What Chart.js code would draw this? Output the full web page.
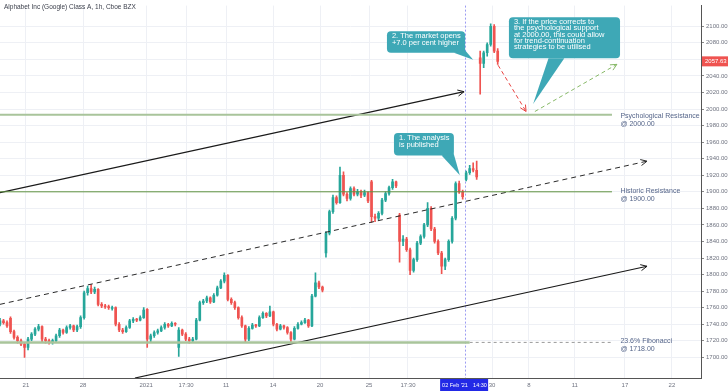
<!DOCTYPE html>
<html>
<head>
<meta charset="utf-8">
<script src="https://cdn.jsdelivr.net/npm/chart.js@4.4.0/dist/chart.umd.min.js"></script>
<style>
  html, body { margin: 0; padding: 0; background: #fff; }
</style>
</head>
<body>
<canvas id="chart" width="728" height="391"></canvas>
<script>
// hourly candles (index = candle number)
const opens = [1740,1744,1742,1747,1731,1724,1720,1716,1712,1722,1728,1734,1737,1722,1720,1719,1720,1726,1733,1730,
  1736,1738,1733,1737,1748,1778,1783,1779,1782,1764,1762,1761,1759,1760,1740,1733,1731,1736,1744,1746,
  1745,1748,1758,1722,1726,1730,1732,1736,1740,1738,1741,1712,1733,1728,1722,1720,1722,1745,1766,1768,
  1772,1767,1775,1784,1792,1799,1770,1766,1760,1748,1738,1722,1735,1739,1738,1748,1753,1750,1755,1740,
  1734,1738,1736,1730,1722,1735,1740,1742,1745,1738,1774,1790,1785,1826,1850,1876,1893,1887,1920,1897,
  1892,1904,1897,1900,1896,1899,1912,1870,1868,1874,1890,1898,1905,1912,1872,1840,1843,1830,1805,1818,
  1838,1846,1860,1880,1855,1840,1826,1810,1818,1840,1868,1910,1900,1915,1923,1928,1926,2062,2055,2068,
  2078,2100,2070];
const highs = [1747,1746,1744,1749,1733,1726,1722,1718,1724,1730,1736,1740,1738,1724,1722,1722,1728,1735,1734,1738,
  1740,1739,1739,1750,1780,1786,1788,1785,1783,1766,1764,1763,1762,1761,1742,1735,1738,1746,1748,1747,
  1750,1760,1759,1728,1732,1734,1738,1742,1741,1743,1742,1736,1734,1730,1724,1724,1747,1768,1770,1774,
  1773,1777,1786,1794,1802,1800,1772,1768,1761,1750,1739,1737,1741,1740,1750,1755,1754,1762,1756,1741,
  1740,1739,1737,1731,1737,1742,1744,1747,1746,1776,1802,1792,1786,1852,1878,1896,1895,1930,1924,1899,
  1906,1906,1903,1902,1902,1900,1914,1873,1876,1892,1900,1907,1915,1913,1874,1847,1845,1832,1820,1840,
  1848,1862,1887,1882,1857,1842,1828,1820,1842,1870,1912,1913,1902,1925,1932,1935,1937,2070,2070,2080,
  2103,2102,2073];
const lows = [1738,1740,1736,1729,1722,1717,1714,1700,1709,1720,1726,1732,1719,1717,1716,1716,1719,1724,1728,1729,
  1734,1731,1731,1735,1746,1775,1777,1777,1762,1760,1759,1758,1757,1738,1731,1729,1730,1735,1742,1743,
  1744,1747,1712,1719,1724,1728,1731,1734,1736,1737,1738,1701,1726,1720,1717,1718,1721,1744,1764,1766,
  1765,1766,1774,1783,1790,1768,1764,1758,1746,1736,1718,1720,1734,1736,1737,1747,1748,1749,1738,1732,
  1733,1734,1728,1718,1721,1734,1739,1741,1736,1737,1773,1783,1779,1821,1848,1874,1885,1886,1895,1889,
  1890,1895,1895,1893,1894,1887,1863,1864,1866,1872,1888,1896,1903,1905,1815,1835,1828,1800,1803,1816,
  1836,1844,1858,1853,1838,1824,1801,1806,1816,1838,1866,1898,1891,1913,1921,1924,1915,2018,2050,2064,
  2076,2068,2054];
const closes = [1744,1742,1738,1731,1724,1720,1716,1712,1722,1728,1734,1737,1722,1720,1719,1720,1726,1733,1730,1736,
  1738,1733,1737,1748,1778,1783,1779,1782,1764,1762,1761,1760,1760,1740,1733,1731,1736,1744,1746,1745,
  1748,1757,1722,1726,1730,1732,1736,1740,1738,1741,1740,1733,1728,1722,1720,1722,1745,1766,1768,1772,
  1767,1775,1784,1792,1799,1770,1766,1760,1748,1738,1722,1735,1739,1738,1748,1753,1750,1755,1740,1734,
  1738,1736,1730,1722,1735,1740,1742,1745,1738,1774,1790,1785,1781,1850,1876,1893,1887,1920,1897,1892,
  1904,1897,1900,1896,1899,1889,1870,1868,1874,1890,1898,1905,1912,1907,1840,1843,1830,1805,1818,1838,
  1846,1860,1880,1855,1840,1826,1810,1818,1840,1868,1910,1900,1894,1923,1928,1926,1918,2055,2068,2078,
  2100,2070,2057.63];

const tickPos = [7.4, 23.7, 41.7, 53.1, 64.5, 77.9, 91.3, 105.3, 116.4, 140.4, 150.9, 164.0, 178.3, 191.7];
const tickLabels = ['21', '28', '2021', '17:30', '11', '14', '20', '25', '17:30', '30', '8', '11', '17', '22'];

// drawn lines (start / end in candle index and price)
const upperChannel = [{ x: 0, y: 1899 }, { x: 132.4, y: 2021 }];
const midChannel = [{ x: 0, y: 1764 }, { x: 184.6, y: 1937 }];
const lowerChannel = [{ x: 38.5, y: 1675 }, { x: 184.6, y: 1810 }];
const bearPath = [{ x: 142.1, y: 2053 }, { x: 150.1, y: 1997 }];
const bullPath = [{ x: 152.6, y: 1997 }, { x: 176, y: 2054 }];
const psychLevel = [{ x: 0, y: 1993 }, { x: 174.6, y: 1993 }];
const historicLevel = [{ x: 0, y: 1900 }, { x: 174.6, y: 1900 }];
const fibLevel = [{ x: 0, y: 1718 }, { x: 134, y: 1718 }];
const fibExtension = [{ x: 134, y: 1718 }, { x: 174.6, y: 1718 }];

const analysisIndex = 132.7;
const lastPrice = 2057.63;

const up = '#26a69a', down = '#ef5350';
const idx = opens.map((_, i) => i);
const candleColor = c => closes[c.dataIndex] >= opens[c.dataIndex] ? up : down;
const FONT = '"Liberation Sans", Arial, sans-serif';

function lineSet(data, color, width, dash, arrow) {
    return { type: 'line', data: data, borderColor: color, borderWidth: width, borderDash: dash || [],
        pointRadius: 0, fill: false, tension: 0, order: 0, arrow: !!arrow };
}

function drawArrow(ctx, a, b, color) {
    const ang = Math.atan2(b.y - a.y, b.x - a.x);
    const len = 7;
    ctx.save();
    ctx.strokeStyle = color;
    ctx.lineWidth = 1;
    ctx.setLineDash([]);
    ctx.beginPath();
    ctx.moveTo(b.x - len * Math.cos(ang - 0.45), b.y - len * Math.sin(ang - 0.45));
    ctx.lineTo(b.x, b.y);
    ctx.lineTo(b.x - len * Math.cos(ang + 0.45), b.y - len * Math.sin(ang + 0.45));
    ctx.stroke();
    ctx.restore();
}

function callout(ctx, x1, y1, x2, y2, base, tip, lines, lh) {
    ctx.save();
    ctx.fillStyle = '#3ea8b6';
    ctx.beginPath();
    ctx.roundRect(x1, y1, x2 - x1, y2 - y1, 4);
    ctx.fill();
    ctx.beginPath();
    ctx.moveTo(base[0][0], base[0][1]);
    ctx.lineTo(tip[0], tip[1]);
    ctx.lineTo(base[1][0], base[1][1]);
    ctx.closePath();
    ctx.fill();
    ctx.fillStyle = '#fff';
    ctx.font = '7.5px ' + FONT;
    ctx.textBaseline = 'middle';
    lines.forEach((t, i) => ctx.fillText(t, x1 + 5, y1 + 5 + i * lh));
    ctx.restore();
}

const overlay = {
    id: 'overlay',
    beforeDatasetsDraw(chart) {
        const { ctx, chartArea, scales: { x } } = chart;
        const px = x.getPixelForValue(analysisIndex);
        ctx.save();
        ctx.strokeStyle = '#9b9cf2';
        ctx.setLineDash([2, 2]);
        ctx.lineWidth = 1;
        ctx.beginPath();
        ctx.moveTo(Math.round(px) + 0.5, chartArea.top);
        ctx.lineTo(Math.round(px) + 0.5, chartArea.bottom);
        ctx.stroke();
        ctx.restore();
    },
    afterDatasetsDraw(chart) {
        const { ctx, scales: { x, y } } = chart;
        chart.data.datasets.forEach((ds, i) => {
            if (!ds.arrow) return;
            const pts = chart.getDatasetMeta(i).data;
            drawArrow(ctx, pts[pts.length - 2], pts[pts.length - 1], ds.borderColor);
        });

        // level labels
        ctx.save();
        ctx.fillStyle = '#56668a';
        ctx.font = '7px ' + FONT;
        ctx.textBaseline = 'middle';
        const lx = x.getPixelForValue(177);
        [['Psychological Resistance', '@ 2000.00', 1993, 1],
         ['Historic Resistance', '@ 1900.00', 1900, -1],
         ['23.6% Fibonacci', '@ 1718.00', 1718, -1]].forEach(l => {
            const ly = y.getPixelForValue(l[2]) + l[3];
            ctx.fillText(l[0], lx, ly);
            ctx.fillText(l[1], lx, ly + 8);
        });
        ctx.restore();

        // callouts
        callout(ctx, x.getPixelForValue(112.4), y.getPixelForValue(1971), x.getPixelForValue(129.5), y.getPixelForValue(1944),
            [[x.getPixelForValue(126), y.getPixelForValue(1944)], [x.getPixelForValue(129.3), y.getPixelForValue(1948)]],
            [x.getPixelForValue(131.2), y.getPixelForValue(1920)],
            ['1. The analysis', 'is published'], 7);
        callout(ctx, x.getPixelForValue(110.4), y.getPixelForValue(2094), x.getPixelForValue(132.7), y.getPixelForValue(2068),
            [[x.getPixelForValue(129.5), y.getPixelForValue(2068)], [x.getPixelForValue(132.5), y.getPixelForValue(2072)]],
            [x.getPixelForValue(135), y.getPixelForValue(2059.5)],
            ['2. The market opens', '+7.0 per cent higher'], 7);
        callout(ctx, x.getPixelForValue(145.2), y.getPixelForValue(2111), x.getPixelForValue(176.9), y.getPixelForValue(2061.5),
            [[x.getPixelForValue(156.5), y.getPixelForValue(2061.5)], [x.getPixelForValue(161), y.getPixelForValue(2061.5)]],
            [x.getPixelForValue(152.1), y.getPixelForValue(2006)],
            ['3. If the price corrects to', 'the psychological support', 'at 2000.00, this could allow',
             'for trend-continuation', 'strategies to be utilised'], 6.2);
    },
    afterDraw(chart) {
        const { ctx, chartArea, scales: { x, y } } = chart;
        ctx.save();
        ctx.fillStyle = '#3a3e4a';
        ctx.font = '6.5px ' + FONT;
        ctx.textBaseline = 'middle';
        ctx.fillText('Alphabet Inc (Google) Class A, 1h, Cboe BZX', 4, 7);

        // last price tag
        const py = y.getPixelForValue(lastPrice);
        ctx.fillStyle = '#ef5350';
        ctx.fillRect(chartArea.right + 1, py - 5, 27, 10);
        ctx.fillStyle = '#fff';
        ctx.font = '6px ' + FONT;
        ctx.fillText(lastPrice.toFixed(2), chartArea.right + 4, py);

        // date box on the time axis
        const dx = x.getPixelForValue(analysisIndex);
        ctx.fillStyle = '#2229e6';
        ctx.fillRect(dx - 25, chartArea.bottom + 1, 48, 12);
        ctx.fillStyle = '#fff';
        ctx.font = '5.5px ' + FONT;
        ctx.fillText("02 Feb '21", dx - 23, chartArea.bottom + 7);
        ctx.fillText('14:30', dx + 8, chartArea.bottom + 7);
        ctx.restore();
    }
};

new Chart(document.getElementById('chart'), {
    type: 'bar',
    data: {
        datasets: [
            { type: 'bar', data: idx.map(i => ({ x: i, y: [opens[i], closes[i]] })), backgroundColor: candleColor,
              barThickness: 2, grouped: false, minBarLength: 1, order: 2 },
            { type: 'bar', data: idx.map(i => ({ x: i, y: [lows[i], highs[i]] })), backgroundColor: candleColor,
              barThickness: 1, grouped: false, order: 3 },
            lineSet(psychLevel, '#a9c49b', 2),
            lineSet(historicLevel, '#5f9240', 1),
            lineSet(fibLevel, '#a9c49b', 2.5),
            lineSet(fibExtension, '#9a9a9a', 1, [3, 3]),
            lineSet(upperChannel, '#1a1a1a', 1.2, null, true),
            lineSet(midChannel, '#2a2a2a', 1, [5, 4], true),
            lineSet(lowerChannel, '#1a1a1a', 1.2, null, true),
            lineSet(bearPath, '#e8413f', 1, [4, 3], true),
            lineSet(bullPath, '#86b866', 1, [4, 3], true)
        ]
    },
    options: {
        responsive: false,
        devicePixelRatio: 1,
        animation: false,
        layout: { padding: 0 },
        plugins: { legend: { display: false }, tooltip: { enabled: false } },
        scales: {
            x: {
                type: 'linear',
                min: 0,
                max: 200,
                offset: false,
                grid: { color: '#eef0f5', drawTicks: false, offset: false },
                border: { color: '#555' },
                afterBuildTicks: s => { s.ticks = tickPos.map(v => ({ value: v })); },
                afterFit: s => { s.height = 13; },
                ticks: {
                    autoSkip: false,
                    maxRotation: 0,
                    padding: 4,
                    color: '#6f7380',
                    font: { size: 6, family: FONT },
                    callback: (v, i) => tickLabels[i]
                }
            },
            y: {
                position: 'right',
                min: 1675,
                max: 2125,
                grid: { color: '#eef0f5', tickLength: 3, tickColor: '#888' },
                border: { color: '#555' },
                afterBuildTicks: s => { s.ticks = s.ticks.filter(t => t.value % 20 === 0); },
                afterFit: s => { s.width = 27; },
                ticks: {
                    stepSize: 20,
                    padding: 2,
                    color: '#6f7380',
                    font: { size: 6, family: FONT },
                    callback: v => v === 2120 ? '2 USD 0' : v.toFixed(2)
                }
            }
        }
    },
    plugins: [overlay]
});
</script>
</body>
</html>
